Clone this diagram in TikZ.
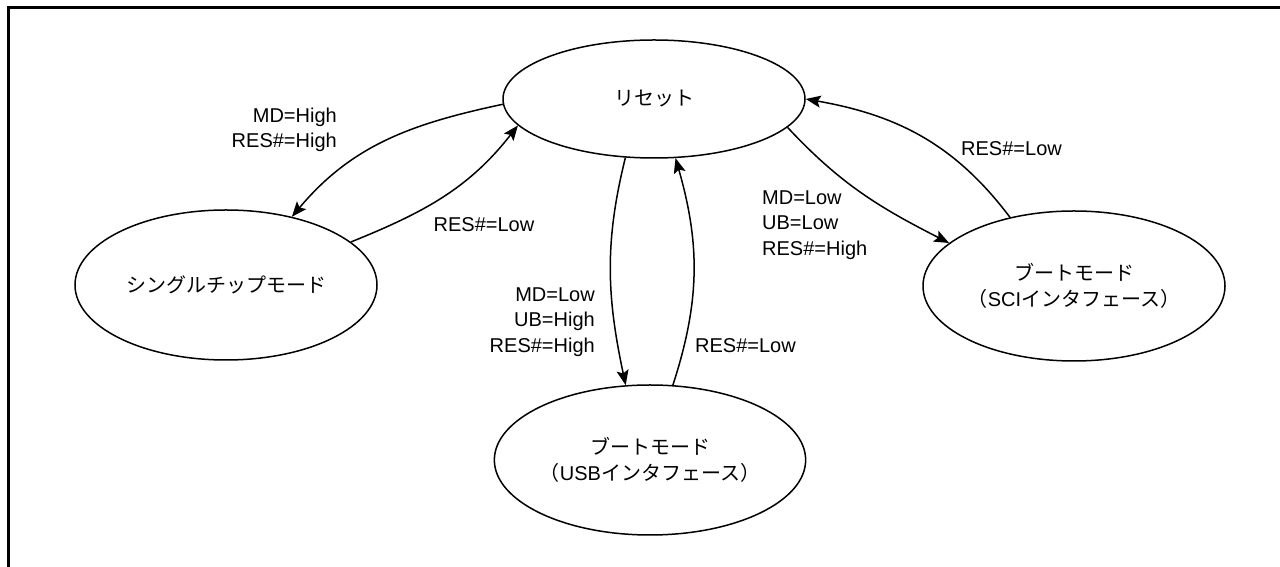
\documentclass[tikz,border=0pt]{standalone}
\usepackage{fontspec}
\setmainfont{Liberation Sans}
\newfontfamily\cjk{Noto Sans CJK JP}
\usetikzlibrary{shapes.geometric,arrows.meta}
\begin{document}
\begin{tikzpicture}[x=1pt,y=1pt,
  state/.style={ellipse, draw, line width=1.5pt, inner sep=0pt,
    minimum width=302pt, minimum height=150pt, align=center,
    font=\cjk\fontsize{20}{26}\selectfont},
  lbl/.style={inner sep=0pt, font=\fontsize{20}{25.5}\selectfont},
  edge/.style={line width=1.5pt, -{Stealth[length=15pt,width=12pt,inset=3pt]}}]
\useasboundingbox (0,0) rectangle (1280,567);
\fill[white] (0,0) rectangle (1280,567);
\draw[line width=3pt] (8.5,0) -- (8.5,559.5) -- (1281,559.5);

\node[state, minimum height=118pt] (reset) at (654,468) {リセット};
\node[state] (single) at (226,282) {シングルチップモード};
\node[state] (usb) at (650,107) {ブートモード\\（{\rmfamily USB}インタフェース）};
\node[state] (sci) at (1074,281) {ブートモード\\（{\rmfamily SCI}インタフェース）};

\draw[edge] (reset.182) to[out=192,in=50] (single.46);
\draw[edge] (single.19) to[out=22,in=232] (reset.191);
\draw[edge] (reset.244) to[out=256,in=102] (usb.108);
\draw[edge] (usb.73) to[out=72,in=286] (reset.290);
\draw[edge] (reset.348) to[out=-47,in=153] (sci.161);
\draw[edge] (sci.133) to[out=127,in=-10] (reset.east);

\node[lbl, align=right, anchor=east] (l1) at (337,437) {MD=High\\RES\#=High};
\node[lbl] (l2) at (484,342) {RES\#=Low};
\node[lbl, align=right, anchor=east] (l3) at (595,245) {MD=Low\\UB=High\\RES\#=High};
\node[lbl, anchor=west] (l4) at (695,221) {RES\#=Low};
\node[lbl, align=left, anchor=west] (l5) at (762,342) {MD=Low\\UB=Low\\RES\#=High};
\node[lbl, anchor=west] (l6) at (961,418) {RES\#=Low};
\end{tikzpicture}
\end{document}
